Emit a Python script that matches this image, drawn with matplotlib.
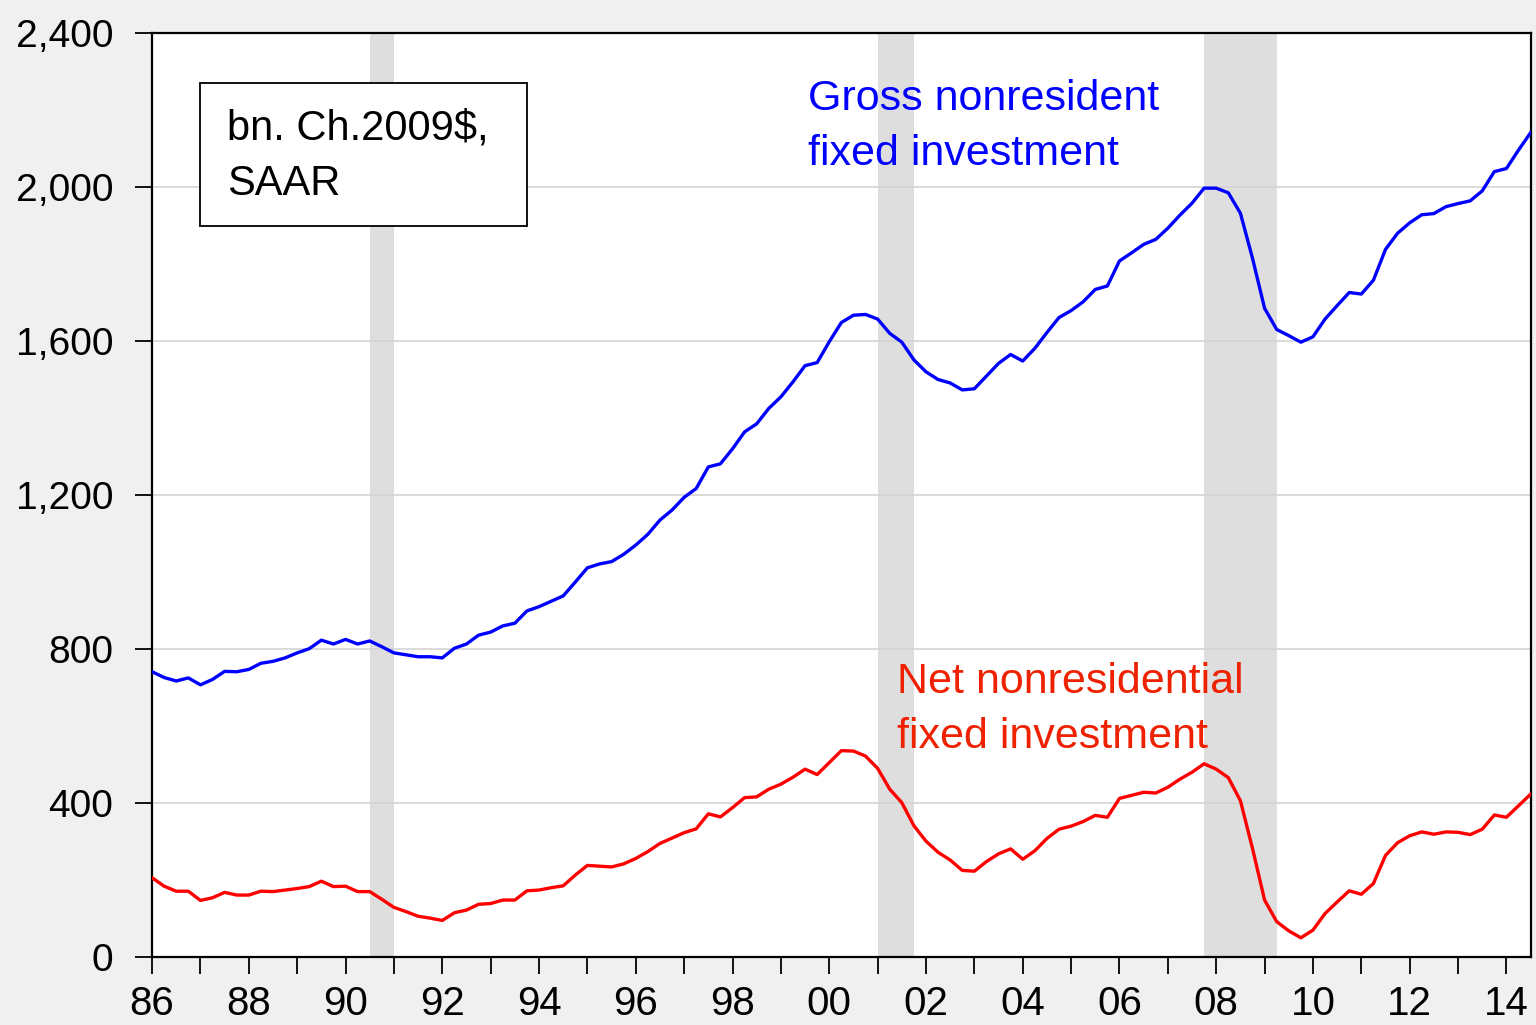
import numpy as np
import matplotlib
matplotlib.use("Agg")
import matplotlib.pyplot as plt
from matplotlib.patches import Rectangle
from matplotlib.ticker import FuncFormatter, MultipleLocator

# quarterly, 1986Q1 - 2014Q3, bn. chained 2009 $
gross = [741, 726, 717, 725, 707, 721, 742, 741, 747, 763,
         768, 777, 790, 801, 823, 813, 825, 813, 821, 806,
         790, 785, 780, 780, 777, 802, 813, 836, 844, 860,
         867, 899, 910, 924, 938, 974, 1011, 1021, 1027, 1046,
         1070, 1098, 1135, 1161, 1194, 1217, 1273, 1281, 1320, 1364,
         1385, 1425, 1455, 1494, 1536, 1544, 1598, 1648, 1667, 1669,
         1657, 1620, 1597, 1551, 1520, 1500, 1491, 1473, 1476, 1509,
         1542, 1565, 1548, 1581, 1622, 1661, 1679, 1702, 1734, 1743,
         1808, 1829, 1851, 1864, 1893, 1927, 1958, 1997, 1997, 1985,
         1932, 1815, 1685, 1630, 1614, 1597, 1611, 1657, 1692, 1726,
         1722, 1758, 1838, 1880, 1907, 1928, 1931, 1949, 1957, 1964,
         1990, 2040, 2048, 2096, 2141]
net = [206, 184, 171, 171, 147, 154, 168, 161, 161, 171,
       170, 174, 178, 183, 197, 183, 184, 170, 170, 150,
       129, 118, 106, 101, 95, 115, 122, 137, 139, 148,
       148, 172, 174, 180, 185, 213, 238, 236, 234, 242,
       256, 274, 295, 309, 323, 333, 372, 364, 388, 414,
       416, 436, 449, 467, 488, 474, 505, 536, 535, 522,
       490, 436, 401, 341, 301, 272, 252, 225, 223, 248,
       268, 281, 254, 276, 308, 332, 340, 352, 368, 363,
       412, 420, 428, 426, 441, 462, 480, 502, 488, 466,
       406, 282, 148, 92, 68, 50, 70, 113, 143, 172,
       163, 191, 264, 297, 315, 325, 319, 325, 324, 318,
       332, 369, 363, 393, 423]
recessions = [(1990.5, 1991.0), (2001.0, 2001.75), (2007.75, 2009.25)]
start_year = 1986

t = start_year + np.arange(len(gross)) / 4.0

plt.rcParams["font.family"] = ["Liberation Sans", "DejaVu Sans"]

fig = plt.figure(figsize=(15.36, 10.25), dpi=100, facecolor="#f0f0f0")
ax = fig.add_axes([0.099, 0.0663, 0.8975, 0.9015])
ax.set_facecolor("white")

for a, b in recessions:
    ax.axvspan(a, b, color="#dedede", lw=0, zorder=0)

ax.plot(t, gross, color="#0000ff", lw=2.4, zorder=3)
ax.plot(t, net, color="#ff0000", lw=2.4, zorder=3)

ax.set_xlim(1986, 2014.5)
ax.set_ylim(0, 2400)
ax.yaxis.set_major_locator(MultipleLocator(400))
ax.yaxis.set_major_formatter(FuncFormatter(lambda v, p: f"{int(v):,}"))
ax.grid(axis="y", color="#d4d4d4", lw=1.2, zorder=1)
ax.set_axisbelow(True)

ax.xaxis.set_major_locator(MultipleLocator(2))
ax.xaxis.set_minor_locator(MultipleLocator(1))
ax.xaxis.set_major_formatter(FuncFormatter(lambda v, p: f"{int(round(v)) % 100:02d}"))

ax.tick_params(axis="x", which="both", direction="out", length=12, width=1.3,
               labelsize=29, pad=8, top=False)
ax.tick_params(axis="y", which="major", direction="out", length=12, width=1.3,
               labelsize=28, pad=16, right=False)
for s in ax.spines.values():
    s.set_linewidth(1.6)
    s.set_color("black")

ax.add_patch(Rectangle((0.0348, 0.791), 0.2373, 0.1548, transform=ax.transAxes,
                       fill=True, facecolor="white", edgecolor="black", lw=1.3, zorder=4))
ax.text(0.0544, 0.8247, "bn. Ch.2009$,\nSAAR", transform=ax.transAxes,
        fontsize=30, color="black", va="baseline", ha="left", linespacing=1.5, zorder=5)

ax.text(0.476, 0.857, "Gross nonresident\nfixed investment", transform=ax.transAxes,
        fontsize=31, color="#0000ff", va="baseline", ha="left", linespacing=1.5, zorder=5)
ax.text(0.5406, 0.2262, "Net nonresidential\nfixed investment", transform=ax.transAxes,
        fontsize=31, color="#ee2200", va="baseline", ha="left", linespacing=1.5, zorder=5)

fig.savefig("out.png", dpi=100, facecolor=fig.get_facecolor())
